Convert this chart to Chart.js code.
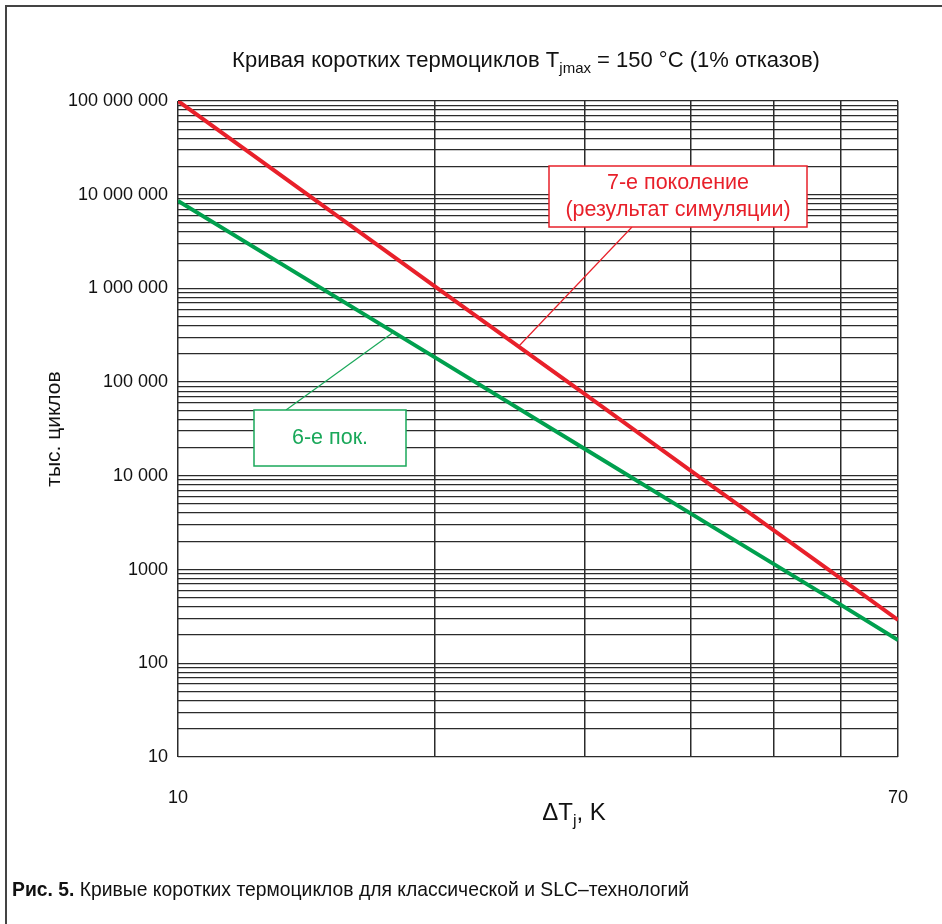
<!DOCTYPE html>
<html lang="ru">
<head>
  <meta charset="UTF-8">
  <title>Кривая коротких термоциклов</title>
  <script src="https://cdn.jsdelivr.net/npm/chart.js"></script>
  <style>
    html, body {
      margin: 0;
      padding: 0;
      background: #ffffff;
    }
    #wrap {
      position: relative;
      width: 942px;
      height: 924px;
    }
  </style>
</head>
<body>
  <div id="wrap">
    <canvas id="cyclesChart" width="942" height="924"></canvas>
  </div>

  <script>
    // ΔTj, K
    const deltaT = [10, 20, 30, 40, 50, 60, 70];
    // (cycles, log scale)
    const gen7 = [100000000, 1060000, 75000, 11300, 2630, 800, 290];
    const gen6 = [8600000, 185000, 19500, 3950, 1150, 420, 177];

    const xGridTicks = [10, 20, 30, 40, 50, 60, 70];
    const xLabelTicks = [10, 70];
    const yDecades = [10, 100, 1000, 10000, 100000, 1000000, 10000000, 100000000];
    const yLabels = ['10', '100', '1000', '10 000', '100 000', '1 000 000', '10 000 000', '100 000 000'];

    const RED = '#e8202a';
    const GREEN = '#00a04e';
    const GRID = '#2b2b2b';
    const FONT = '"Liberation Sans", Arial, sans-serif';

    function minorTicks() {
      const out = [];
      for (let d = 0; d < yDecades.length - 1; d++) {
        for (let m = 1; m <= 9; m++) out.push(yDecades[d] * m);
      }
      out.push(yDecades[yDecades.length - 1]);
      return out;
    }

    // text with a subscript part, drawn left to right
    function drawRuns(ctx, runs, x, y, align) {
      let total = 0;
      runs.forEach(r => { ctx.font = r.font; total += ctx.measureText(r.text).width; });
      let cx = align === 'center' ? x - total / 2 : x;
      ctx.textAlign = 'left';
      runs.forEach(r => {
        ctx.font = r.font;
        ctx.fillText(r.text, cx, y + (r.dy || 0));
        cx += ctx.measureText(r.text).width;
      });
    }

    const decorPlugin = {
      id: 'decor',
      beforeDraw(chart) {
        const ctx = chart.ctx;
        ctx.save();
        ctx.fillStyle = '#fff';
        ctx.fillRect(0, 0, chart.width, chart.height);
        // frame (left + top)
        ctx.strokeStyle = '#444';
        ctx.lineWidth = 2;
        ctx.beginPath();
        ctx.moveTo(6, chart.height);
        ctx.lineTo(6, 6);
        ctx.lineTo(chart.width, 6);
        ctx.stroke();
        ctx.restore();
      },
      afterDraw(chart) {
        const ctx = chart.ctx;
        const xs = chart.scales.x, ys = chart.scales.y;
        ctx.save();
        ctx.fillStyle = '#111';
        ctx.textBaseline = 'alphabetic';

        // title
        drawRuns(ctx, [
          { text: 'Кривая коротких термоциклов T', font: '22px ' + FONT },
          { text: 'jmax', font: '15px ' + FONT, dy: 6 },
          { text: ' = 150 °C (1% отказов)', font: '22px ' + FONT }
        ], 526, 67, 'center');

        // x axis title
        drawRuns(ctx, [
          { text: 'ΔT', font: '24px ' + FONT },
          { text: 'j', font: '16px ' + FONT, dy: 6 },
          { text: ', K', font: '24px ' + FONT }
        ], 574, 820, 'center');

        // y axis title
        ctx.save();
        ctx.translate(60, 429);
        ctx.rotate(-Math.PI / 2);
        ctx.font = '21px ' + FONT;
        ctx.textAlign = 'center';
        ctx.fillText('тыс. циклов', 0, 0);
        ctx.restore();

        // caption (narrow face)
        ctx.save();
        ctx.translate(12, 896);
        ctx.scale(0.92, 1);
        ctx.textAlign = 'left';
        ctx.font = 'bold 21px ' + FONT;
        ctx.fillText('Рис. 5.', 0, 0);
        const w = ctx.measureText('Рис. 5. ').width;
        ctx.font = '21px ' + FONT;
        ctx.fillText('Кривые коротких термоциклов для классической и SLC–технологий', w, 0);
        ctx.restore();

        // callouts
        function callout(box, lines, color, anchor, from) {
          const ax = xs.getPixelForValue(anchor[0]);
          const ay = ys.getPixelForValue(anchor[1]);
          ctx.strokeStyle = color;
          ctx.lineWidth = 1.2;
          ctx.beginPath();
          ctx.moveTo(from[0], from[1]);
          ctx.lineTo(ax, ay);
          ctx.stroke();
          ctx.fillStyle = '#fff';
          ctx.fillRect(box.x, box.y, box.w, box.h);
          ctx.lineWidth = 1.5;
          ctx.strokeRect(box.x, box.y, box.w, box.h);
          ctx.fillStyle = color;
          ctx.font = '21.5px ' + FONT;
          ctx.textAlign = 'center';
          ctx.textBaseline = 'middle';
          const cx = box.x + box.w / 2;
          const step = 27;
          const y0 = box.y + box.h / 2 - (lines.length - 1) * step / 2;
          lines.forEach((t, i) => ctx.fillText(t, cx, y0 + i * step));
        }
        callout({ x: 549, y: 166, w: 258, h: 61 }, ['7-е поколение', '(результат симуляции)'], RED,
          [25.1, 240000], [632, 227]);
        callout({ x: 254, y: 410, w: 152, h: 56 }, ['6-е пок.'], '#1aa85a',
          [17.9, 340000], [286, 410]);

        ctx.restore();
      }
    };

    new Chart(document.getElementById('cyclesChart'), {
      type: 'line',
      data: {
        labels: deltaT,
        datasets: [
          {
            label: '7-е поколение',
            data: deltaT.map((x, i) => ({ x: x, y: gen7[i] })),
            borderColor: RED,
            borderWidth: 4,
            pointRadius: 0,
            tension: 0
          },
          {
            label: '6-е пок.',
            data: deltaT.map((x, i) => ({ x: x, y: gen6[i] })),
            borderColor: GREEN,
            borderWidth: 4,
            pointRadius: 0,
            tension: 0
          }
        ]
      },
      options: {
        responsive: false,
        animation: false,
        events: [],
        layout: { padding: { left: 0, top: 101, right: 44, bottom: 107 } },
        plugins: {
          legend: { display: false },
          title: { display: false },
          tooltip: { enabled: false }
        },
        scales: {
          x: {
            type: 'logarithmic',
            min: 10,
            max: 70,
            afterBuildTicks: s => { s.ticks = xGridTicks.map(v => ({ value: v })); },
            afterFit: s => { s.height = 60; },
            border: { display: false },
            grid: { color: GRID, lineWidth: 1.5, drawTicks: false },
            ticks: {
              autoSkip: false,
              maxRotation: 0,
              padding: 30,
              color: '#111',
              font: { family: FONT, size: 18 },
              callback: v => xLabelTicks.includes(v) ? String(v) : ''
            }
          },
          y: {
            type: 'logarithmic',
            min: 10,
            max: 100000000,
            afterBuildTicks: s => { s.ticks = minorTicks().map(v => ({ value: v })); },
            afterFit: s => { s.width = 178; },
            border: { display: false },
            grid: { color: GRID, lineWidth: 1.3, drawTicks: false },
            ticks: {
              autoSkip: false,
              padding: 10,
              color: '#111',
              font: { family: FONT, size: 18 },
              callback: v => {
                const i = yDecades.indexOf(v);
                return i >= 0 ? yLabels[i] : '';
              }
            }
          }
        }
      },
      plugins: [decorPlugin]
    });
  </script>
</body>
</html>
